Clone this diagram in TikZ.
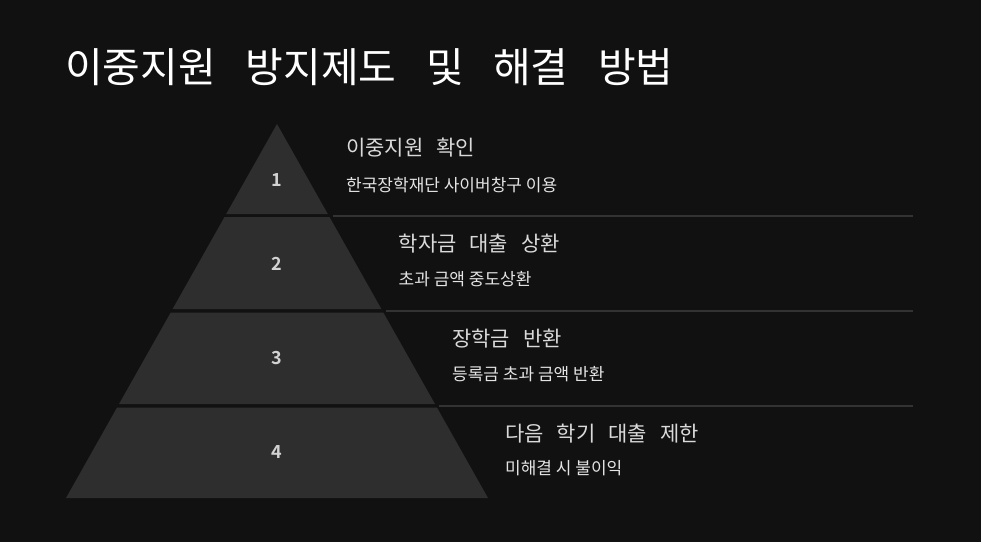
\documentclass[tikz,border=0pt]{standalone}
\usepackage{fontspec}
\usepackage{tikz}
\usepackage{xcolor}
\setmainfont{Noto Sans CJK KR}
\newfontfamily\krfont{Noto Sans CJK KR}
\newfontfamily\krbold{Noto Sans CJK KR Bold}

\definecolor{bgcol}{HTML}{111111}
\definecolor{pyrgray}{HTML}{2E2E2E}
\definecolor{sepgray}{HTML}{333333}
\definecolor{headgray}{HTML}{DADADA}
\definecolor{subgray}{HTML}{E4E4E4}
\definecolor{numgray}{HTML}{D2D2D2}

\newcommand{\wgap}{\hspace{0.62em}}
\newcommand{\tgap}{\hspace{0.72em}}

\begin{document}
\begin{tikzpicture}[x=1pt,y=-1pt]
\tikzstyle{layer} = [fill=pyrgray, draw=none];
\tikzstyle{num} = [font=\krbold\fontsize{18}{20}\selectfont, text=numgray, inner sep=0pt];
\tikzstyle{head} = [anchor=west, font=\krfont\fontsize{21}{23}\selectfont, text=headgray, inner sep=0pt];
\tikzstyle{sub} = [anchor=west, font=\krfont\fontsize{17}{19}\selectfont, text=subgray, inner sep=0pt];
\tikzstyle{sep} = [draw=sepgray, line width=2pt];

% background
\fill[bgcol] (0,0) rectangle (981,542);
\useasboundingbox (0,0) rectangle (981,542);

% title
\node [anchor=west, inner sep=0pt, text=white, font=\krfont\fontsize{41}{45}\selectfont] (title) at (65,67)
 {이중지원\tgap 방지제도\tgap 및\tgap 해결\tgap 방법};

% layer 1
\path [layer] (277,124) -- (327.8,214) -- (226.2,214) -- cycle;
% layer 2
\path [layer] (224.5,217) -- (329.5,217) -- (381.4,309) -- (172.6,309) -- cycle;
% layer 3
\path [layer] (170.7,312.5) -- (383.3,312.5) -- (435.0,404) -- (119.0,404) -- cycle;
% layer 4
\path [layer] (117.05,407.5) -- (436.95,407.5) -- (488,498) -- (66,498) -- cycle;

% separators
\path [sep] (333,215.5) -- (913,215.5);
\path [sep] (386,311) -- (913,311);
\path [sep] (439,406) -- (913,406);

% numbers
\node [num] (n1) at (277,180) {1};
\node [num] (n2) at (277,264) {2};
\node [num] (n3) at (277,358) {3};
\node [num] (n4) at (277,452) {4};

% step 1
\node [head] (h1) at (346,147.5) {이중지원\wgap 확인};
\node [sub] (s1) at (346,185.5) {한국장학재단 사이버창구 이용};
% step 2
\node [head] (h2) at (398.5,244) {학자금\wgap 대출\wgap 상환};
\node [sub] (s2) at (398.5,279.5) {초과 금액 중도상환};
% step 3
\node [head] (h3) at (452,339) {장학금\wgap 반환};
\node [sub] (s3) at (452,374) {등록금 초과 금액 반환};
% step 4
\node [head] (h4) at (505,434) {다음\wgap 학기\wgap 대출\wgap 제한};
\node [sub] (s4) at (505,468) {미해결 시 불이익};
\end{tikzpicture}
\end{document}
